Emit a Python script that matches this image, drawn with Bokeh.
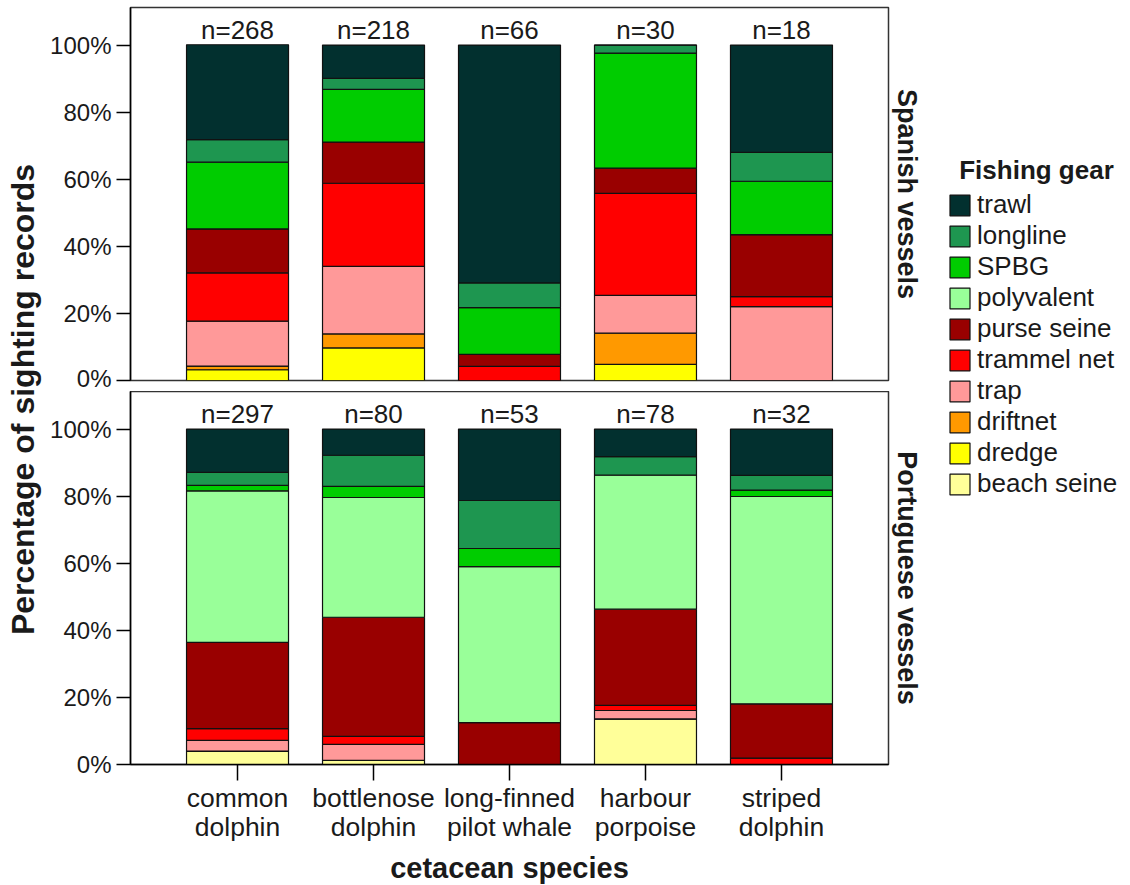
from math import pi
from bokeh.plotting import figure
from bokeh.models import (ColumnDataSource, FactorRange, Range1d, PrintfTickFormatter,
                          FixedTicker, Title, Legend, LegendItem, Label, LabelSet, CategoricalAxis,
                          CustomJSTickFormatter)
from bokeh.layouts import row, column
from bokeh.embed import file_html
from bokeh.resources import INLINE
from bokeh.core.properties import value

# ---------------- data ----------------
species = ["common dolphin", "bottlenose dolphin", "long-finned pilot whale",
           "harbour porpoise", "striped dolphin"]
species_line1 = ["common", "bottlenose", "long-finned", "harbour", "striped"]
species_line2 = ["dolphin", "dolphin", "pilot whale", "porpoise", "dolphin"]

gears = ["trawl", "longline", "SPBG", "polyvalent", "purse seine",
         "trammel net", "trap", "driftnet", "dredge", "beach seine"]
gear_colors = ["#02302f", "#1e9650", "#00cc00", "#99ff99", "#990000",
               "#ff0000", "#ff9999", "#ff9900", "#ffff00", "#ffff99"]

# Spanish vessels: % of sighting records by gear (per species)
n_spanish = [268, 218, 66, 30, 18]
sp_trawl       = [28.3, 9.9, 70.9, 0.0, 32.0]
sp_longline    = [6.7, 3.3, 7.4, 2.4, 8.6]
sp_spbg        = [19.9, 15.7, 13.9, 34.3, 15.9]
sp_polyvalent  = [0.0, 0.0, 0.0, 0.0, 0.0]
sp_purse_seine = [13.1, 12.3, 3.6, 7.5, 18.5]
sp_trammel_net = [14.4, 24.8, 4.2, 30.4, 3.0]
sp_trap        = [13.4, 20.1, 0.0, 11.3, 22.0]
sp_driftnet    = [1.1, 4.2, 0.0, 9.3, 0.0]
sp_dredge      = [3.2, 9.7, 0.0, 4.8, 0.0]
sp_beach_seine = [0.0, 0.0, 0.0, 0.0, 0.0]

# Portuguese vessels
n_portuguese = [297, 80, 53, 78, 32]
pt_trawl       = [12.9, 7.8, 21.3, 8.2, 13.8]
pt_longline    = [3.9, 9.3, 14.3, 5.5, 4.4]
pt_spbg        = [1.6, 3.3, 5.4, 0.0, 1.9]
pt_polyvalent  = [45.2, 35.7, 46.5, 40.0, 61.8]
pt_purse_seine = [25.7, 35.5, 12.5, 28.7, 16.2]
pt_trammel_net = [3.5, 2.4, 0.0, 1.5, 1.9]
pt_trap        = [3.2, 4.8, 0.0, 2.5, 0.0]
pt_driftnet    = [0.0, 0.0, 0.0, 0.0, 0.0]
pt_dredge      = [0.0, 0.0, 0.0, 0.0, 0.0]
pt_beach_seine = [4.0, 1.2, 0.0, 13.6, 0.0]

spanish = dict(zip(gears, [sp_trawl, sp_longline, sp_spbg, sp_polyvalent, sp_purse_seine,
                           sp_trammel_net, sp_trap, sp_driftnet, sp_dredge, sp_beach_seine]))
portuguese = dict(zip(gears, [pt_trawl, pt_longline, pt_spbg, pt_polyvalent, pt_purse_seine,
                              pt_trammel_net, pt_trap, pt_driftnet, pt_dredge, pt_beach_seine]))

FONT = "Liberation Sans"
TXT = "#1a1a1a"
EDGE = "#111111"

stack_order = gears[::-1]
stack_colors = gear_colors[::-1]


def style_x(ax, labels, tick_out, standoff):
    ax.formatter = CustomJSTickFormatter(args=dict(m=dict(zip(species, labels))),
                                         code="return (tick in m) ? m[tick] : tick;")
    ax.major_tick_out = tick_out
    ax.major_tick_in = 0
    ax.major_tick_line_width = 1.5
    ax.major_label_standoff = standoff
    ax.major_label_text_font = FONT
    ax.major_label_text_font_size = "26.5px"
    ax.major_label_text_color = TXT


def panel(data, counts, facet, bottom):
    src = ColumnDataSource(dict(species=species, **data))
    totals = [sum(data[g][i] for g in gears) for i in range(len(species))]
    lab = ColumnDataSource(dict(species=species, top=totals, txt=["n=%d" % n for n in counts]))
    p = figure(x_range=FactorRange(*species, range_padding=0.1148),
               y_range=Range1d(0, 111.2),
               frame_width=758, frame_height=373,
               min_border_left=82, min_border_right=45,
               min_border_top=0 if bottom else 7,
               min_border_bottom=115 if bottom else 11,
               output_backend="svg", toolbar_location=None)
    p.vbar_stack(stack_order, x="species", width=0.75, source=src,
                 fill_color=stack_colors, line_color=EDGE, line_width=1.2)
    p.add_layout(LabelSet(x="species", y="top", text="txt", source=lab, y_offset=6,
                          text_align="center", text_baseline="alphabetic",
                          text_font=value(FONT), text_font_size=value("26px"),
                          text_color=TXT))
    p.xgrid.visible = False
    p.ygrid.visible = False
    p.outline_line_color = "#333333"
    p.outline_line_width = 1.5
    p.background_fill_color = "white"
    p.border_fill_color = "white"

    ya = p.yaxis[0]
    ya.ticker = FixedTicker(ticks=[0, 20, 40, 60, 80, 100])
    ya.formatter = PrintfTickFormatter(format="%d%%")
    ya.major_tick_out = 14
    ya.major_tick_in = 0
    ya.minor_tick_out = 0
    ya.minor_tick_in = 0
    ya.major_tick_line_width = 1.5
    ya.axis_line_width = 1.5
    ya.major_label_standoff = 5
    ya.major_label_text_font = FONT
    ya.major_label_text_font_size = "24px"
    ya.major_label_text_color = TXT

    xa = p.xaxis[0]
    if bottom:
        style_x(xa, species_line1, 16, 2)
        xa.axis_line_width = 1.5
        xb = CategoricalAxis()
        style_x(xb, species_line2, 0, -4)
        xb.axis_line_color = None
        xb.major_tick_line_color = None
        xb.axis_label = "cetacean species"
        xb.axis_label_standoff = 7
        xb.axis_label_text_font = FONT
        xb.axis_label_text_font_size = "29px"
        xb.axis_label_text_font_style = "bold"
        xb.axis_label_text_color = TXT
        p.add_layout(xb, "below")
    else:
        xa.visible = False

    p.add_layout(Title(text=facet, align="center", text_font=FONT, text_font_size="27px",
                       text_font_style="bold", text_color=TXT, standoff=7), "right")
    return p, src


p1, src_sp = panel(spanish, n_spanish, "Spanish vessels", False)
p2, src_pt = panel(portuguese, n_portuguese, "Portuguese vessels", True)

H = 882
# left strip with shared y label
pl = figure(width=47, height=H, x_range=Range1d(0, 47), y_range=Range1d(H, 0),
            min_border=0, output_backend="svg", toolbar_location=None)
pl.axis.visible = False
pl.grid.visible = False
pl.outline_line_color = None
pl.add_layout(Label(x=22, y=399, text="Percentage of sighting records", angle=pi / 2,
                    text_align="center", text_baseline="middle", text_font=FONT,
                    text_font_size="32px", text_font_style="bold", text_color=TXT))

# right strip with legend
WR = 195
pr = figure(width=WR, height=H, x_range=FactorRange(*species), y_range=Range1d(H, 0),
            min_border=0, output_backend="svg", toolbar_location=None)
pr.axis.visible = False
pr.grid.visible = False
pr.outline_line_color = None
leg_r = pr.vbar_stack(stack_order, x="species", width=0.75, source=src_sp,
                      fill_color=stack_colors, line_color=EDGE, line_width=1.2, visible=False)
rmap = dict(zip(stack_order, leg_r))
items = [LegendItem(label=g, renderers=[rmap[g]]) for g in gears]
leg = Legend(items=items, location=(14, 383), glyph_width=25, glyph_height=26,
             spacing=0, padding=0, margin=0, label_standoff=5,
             label_text_font=FONT, label_text_font_size="26px", label_text_color=TXT,
             border_line_color=None, background_fill_alpha=0)
pr.add_layout(leg)
px_per_factor = WR / len(species)
pr.add_layout(Label(x=103 / px_per_factor, y=169, text="Fishing gear",
                    text_align="center", text_baseline="middle", text_font=FONT,
                    text_font_size="26px", text_font_style="bold", text_color=TXT))

layout = row(pl, column(p1, p2), pr)
open("out.html", "w").write(file_html(layout, INLINE))
